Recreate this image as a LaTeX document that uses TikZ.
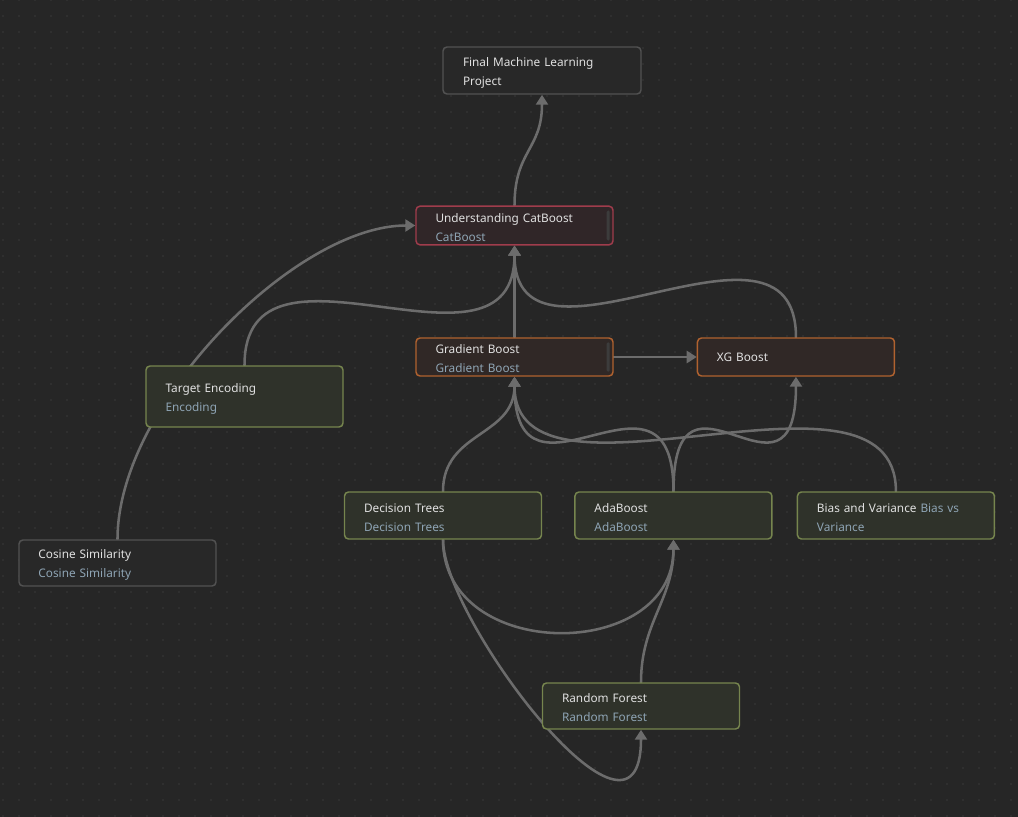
\documentclass[tikz,border=0pt]{standalone}
\usepackage{fontspec}
\setmainfont{Noto Sans}
\usepackage{xcolor}
\usetikzlibrary{positioning, arrows.meta, calc}
\definecolor{canvas}{HTML}{262626}
\definecolor{dotc}{HTML}{3A3A3A}
\definecolor{wire}{HTML}{6C6C6C}
\definecolor{ink}{HTML}{E0E0E0}
\definecolor{subc}{HTML}{8EA4B4}
\definecolor{greyb}{HTML}{525252}
\definecolor{greyf}{HTML}{282828}
\definecolor{redb}{HTML}{A03C4C}
\definecolor{redf}{HTML}{302628}
\definecolor{orangeb}{HTML}{B0622F}
\definecolor{orangef}{HTML}{302826}
\definecolor{greenb}{HTML}{76854E}
\definecolor{greenf}{HTML}{2F322A}
\definecolor{scrollc}{HTML}{3C3C3C}
\pgfdeclarelayer{grid}
\pgfdeclarelayer{links}
\pgfsetlayers{grid,links,main}

\begin{document}
\begin{tikzpicture}[
  x=0.75pt, y=-0.75pt,
  font=\fontsize{8.85}{14.25}\selectfont,
  >={Triangle[length=7.5pt, width=9pt]},
  box/.style={rectangle, rounded corners=3pt, line width=1.1pt, text=ink,
              minimum width=147.75pt, text width=118.5pt, inner xsep=14.6pt,
              inner ysep=0pt, minimum height=35.25pt, align=left,
              execute at end node={\endgraf\vspace*{-3pt}}},
  greybox/.style={box, draw=greyb, fill=greyf},
  redbox/.style={box, draw=redb, fill=redf, minimum height=29pt},
  orangebox/.style={box, draw=orangeb, fill=orangef, minimum height=28.5pt},
  greenbox/.style={box, draw=greenb, fill=greenf},
  arr/.style={->, line width=1.9pt, draw=wire, line cap=round},
  scroll/.style={fill=scrollc, rounded corners=1pt},
]
\newcommand{\subl}[1]{{\color{subc}#1}}
\useasboundingbox (0,0) rectangle (1018,817);

% ---------------- canvas ----------------
\begin{pgfonlayer}{grid}
\fill[canvas] (0,0) rectangle (1018,817);
\foreach \x in {3,19,...,1018}
  \foreach \y in {0,16,...,817}
    \fill[dotc] (\x,\y) circle[radius=0.9];
\end{pgfonlayer}

% ---------------- top ----------------
\node[greybox, minimum width=148.5pt] (final) at (542,70.5) {Final Machine Learning Project};
\node[redbox] (cat) at (514.5,225.5) {Understanding CatBoost\\\subl{CatBoost}};
\fill[scroll] ($(cat.north east)+(-7,5)$) rectangle ($(cat.south east)+(-4,-5)$);

% ---------------- boosting row ----------------
\node[orangebox] (grad) at (514.5,357) {Gradient Boost\\\subl{Gradient Boost}};
\fill[scroll] ($(grad.north east)+(-7,5)$) rectangle ($(grad.south east)+(-4,-5)$);
\node[orangebox, right=62.25pt of grad] (xg) {XG Boost};

% ---------------- left side ----------------
\node[greenbox, minimum height=45.75pt] (tgt) at (244.5,396.5) {Target Encoding\\\subl{Encoding}};
\node[greybox, minimum height=34.5pt] (cos) at (117.5,563) {Cosine Similarity\\\subl{Cosine Similarity}};

% ---------------- basics ----------------
\node[greenbox] (dt) at (443,515.5) {Decision Trees\\\subl{Decision Trees}};
\node[greenbox, right=24pt of dt] (ada) {AdaBoost\\\subl{AdaBoost}};
\node[greenbox, right=18pt of ada] (bias) {Bias and Variance \subl{Bias vs Variance}};
\node[greenbox, minimum height=34.5pt] (rf) at (641,706) {Random Forest\\\subl{Random Forest}};

% ---------------- links ----------------
\begin{pgfonlayer}{links}
\draw[arr] (cat.north) .. controls +(0,-55) and +(0,55) .. (final.south);
\draw[arr] (cos.north) .. controls +(0,-135) and +(-120,0) .. (cat.west);
\draw[arr] (tgt.north) .. controls +(0,-150) and +(0,150) .. (cat.south);
\draw[arr] (grad.north) -- (cat.south);
\draw[arr] (xg.north) .. controls +(0,-150) and +(0,150) .. (cat.south);
\draw[arr] (grad.east) -- (xg.west);
\draw[arr] (dt.north) .. controls +(0,-60) and +(0,60) .. (grad.south);
\draw[arr] (ada.north) .. controls +(0,-150) and +(0,150) .. (grad.south);
\draw[arr] (bias.north) .. controls +(0,-150) and +(0,150) .. (grad.south);
\draw[arr] (ada.north) .. controls +(0,-150) and +(0,150) .. (xg.south);
\draw[arr] (dt.south) .. controls +(0,123) and +(0,123) .. (ada.south);
\draw[arr] (dt.south) .. controls +(0,80) and +(0,150) .. (rf.south);
\draw[arr] (rf.north) .. controls +(0,-60) and +(0,60) .. (ada.south);
\end{pgfonlayer}

\end{tikzpicture}
\end{document}
